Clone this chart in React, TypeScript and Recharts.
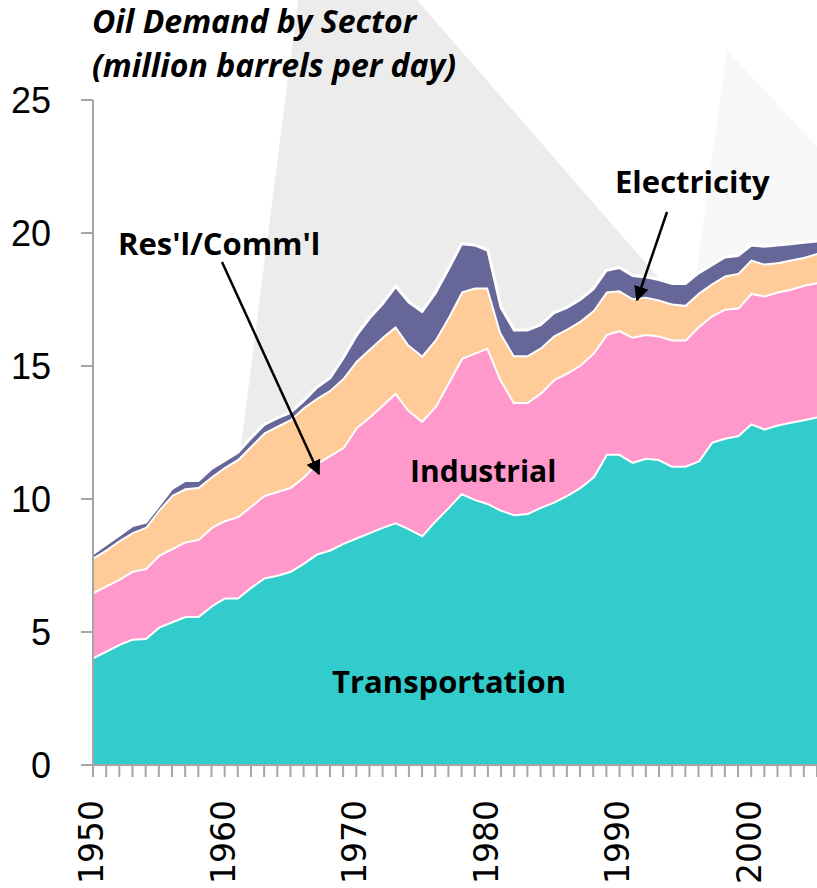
import React from 'react';
import { AreaChart, Area, XAxis, YAxis } from 'recharts';

const years = [
  1950, 1951, 1952, 1953, 1954, 1955, 1956, 1957, 1958, 1959,
  1960, 1961, 1962, 1963, 1964, 1965, 1966, 1967, 1968, 1969,
  1970, 1971, 1972, 1973, 1974, 1975, 1976, 1977, 1978, 1979,
  1980, 1981, 1982, 1983, 1984, 1985, 1986, 1987, 1988, 1989,
  1990, 1991, 1992, 1993, 1994, 1995, 1996, 1997, 1998, 1999,
  2000, 2001, 2002, 2003, 2004, 2005,
];

const transportation = [
  4.05, 4.3, 4.55, 4.75, 4.77, 5.2, 5.4, 5.6, 5.6, 6.0,
  6.3, 6.3, 6.7, 7.05, 7.15, 7.3, 7.6, 7.95, 8.1, 8.35,
  8.55, 8.75, 8.95, 9.13, 8.9, 8.65, 9.2, 9.7, 10.23, 10.0,
  9.85, 9.6, 9.43, 9.47, 9.7, 9.9, 10.15, 10.45, 10.85, 11.7,
  11.7, 11.4, 11.55, 11.5, 11.25, 11.25, 11.45, 12.15, 12.3, 12.4,
  12.85, 12.65, 12.8, 12.9, 13.0, 13.1,
];

const industrial = [
  2.45, 2.45, 2.45, 2.55, 2.63, 2.7, 2.75, 2.8, 2.9, 2.95,
  2.9, 3.05, 3.05, 3.1, 3.15, 3.15, 3.25, 3.4, 3.55, 3.6,
  4.15, 4.35, 4.6, 4.87, 4.45, 4.3, 4.3, 4.7, 5.07, 5.5,
  5.85, 4.9, 4.22, 4.18, 4.3, 4.6, 4.6, 4.6, 4.65, 4.5,
  4.65, 4.7, 4.65, 4.65, 4.75, 4.75, 5.05, 4.75, 4.85, 4.8,
  4.9, 5.0, 5.0, 5.0, 5.05, 5.05,
];

const resComm = [
  1.3, 1.35, 1.45, 1.45, 1.55, 1.7, 2.0, 2.0, 1.95, 1.9,
  2.0, 2.15, 2.25, 2.35, 2.45, 2.55, 2.6, 2.45, 2.45, 2.6,
  2.5, 2.55, 2.55, 2.5, 2.45, 2.45, 2.5, 2.45, 2.5, 2.45,
  2.25, 1.75, 1.75, 1.75, 1.7, 1.65, 1.65, 1.65, 1.6, 1.6,
  1.5, 1.45, 1.4, 1.35, 1.35, 1.3, 1.25, 1.2, 1.25, 1.3,
  1.25, 1.2, 1.1, 1.1, 1.05, 1.1,
];

const electricity = [
  0.15, 0.2, 0.2, 0.25, 0.18, 0.15, 0.25, 0.3, 0.25, 0.3,
  0.25, 0.25, 0.3, 0.3, 0.3, 0.25, 0.25, 0.4, 0.45, 0.75,
  0.95, 1.15, 1.25, 1.5, 1.6, 1.65, 1.75, 1.8, 1.8, 1.6,
  1.4, 0.95, 0.95, 0.95, 0.85, 0.85, 0.8, 0.8, 0.8, 0.8,
  0.85, 0.85, 0.75, 0.75, 0.75, 0.8, 0.75, 0.7, 0.7, 0.65,
  0.55, 0.65, 0.65, 0.6, 0.55, 0.45,
];

const yTicks = [0, 5, 10, 15, 20, 25];
const decadeLabels = [1950, 1960, 1970, 1980, 1990, 2000];

const data = years.map((year, i) => ({
  year,
  transportation: transportation[i],
  industrial: industrial[i],
  resComm: resComm[i],
  electricity: electricity[i],
}));

const AXIS_GRAY = '#a6a6a6';
const LABEL_FONT = '"Liberation Sans", Arial, sans-serif';
const XLABEL_FONT = '"DejaVu Sans", sans-serif';
const ANNOT_FONT = '"Open Sans", "Liberation Sans", sans-serif';

const XTick = (props: any) => {
  const { x, payload } = props;
  if (!decadeLabels.includes(payload.value)) return null;
  return (
    <text
      transform={`translate(${x},800) rotate(-90)`}
      textAnchor="end"
      dy="0.3em"
      fontSize={33}
      fontFamily={XLABEL_FONT}
      fill="#000"
    >
      {payload.value}
    </text>
  );
};

const YTick = (props: any) => {
  const { x, y, payload } = props;
  return (
    <text
      x={x}
      y={y}
      textAnchor="end"
      dy="0.36em"
      fontSize={36}
      fontFamily={LABEL_FONT}
      fill="#000"
    >
      {payload.value}
    </text>
  );
};

export default function App() {
  return (
    <div style={{ position: 'absolute', left: 0, top: 0, width: 817, height: 888, overflow: 'hidden', background: '#fff' }}>
      <svg width={817} height={888} style={{ position: 'absolute', left: 0, top: 0 }}>
        <polygon points="234,500 298,0 417,0 730,360 600,640" fill="#ececec" />
        <polygon points="690,320 727,50 817,147 817,320" fill="#f7f7f7" />
      </svg>
      <div style={{ position: 'absolute', left: 0, top: 0 }}>
        <AreaChart
          width={817}
          height={888}
          data={data}
          margin={{ top: 100, right: 0, bottom: 0, left: 0 }}
        >
          <XAxis
            dataKey="year"
            type="number"
            domain={[1950, 2005]}
            ticks={years}
            interval={0}
            tickSize={12}
            height={123}
            axisLine={{ stroke: AXIS_GRAY, strokeWidth: 2 }}
            tickLine={{ stroke: AXIS_GRAY, strokeWidth: 2 }}
            tick={<XTick />}
            allowDataOverflow
          />
          <YAxis
            type="number"
            domain={[0, 25]}
            ticks={yTicks}
            interval={0}
            width={93}
            tickSize={12}
            tickMargin={30}
            axisLine={{ stroke: AXIS_GRAY, strokeWidth: 2 }}
            tickLine={{ stroke: AXIS_GRAY, strokeWidth: 2 }}
            tick={<YTick />}
          />
          <Area type="linear" dataKey="transportation" stackId="1" fill="#33cccc" fillOpacity={1} stroke="#ffffff" strokeWidth={4} isAnimationActive={false} />
          <Area type="linear" dataKey="industrial" stackId="1" fill="#ff99cc" fillOpacity={1} stroke="#ffffff" strokeWidth={4} isAnimationActive={false} />
          <Area type="linear" dataKey="resComm" stackId="1" fill="#ffcc99" fillOpacity={1} stroke="#ffffff" strokeWidth={4} isAnimationActive={false} />
          <Area type="linear" dataKey="electricity" stackId="1" fill="#666699" fillOpacity={1} stroke="#ffffff" strokeWidth={3} isAnimationActive={false} />
        </AreaChart>
      </div>
      <svg width={817} height={888} style={{ position: 'absolute', left: 0, top: 0, pointerEvents: 'none' }}>
        <defs>
          <marker id="arrowHead" viewBox="0 0 10 10" refX="9" refY="5" markerWidth="6" markerHeight="6" orient="auto" markerUnits="strokeWidth">
            <path d="M0,0 L10,5 L0,10 z" fill="#000" />
          </marker>
        </defs>
        <text x={92} y={33} fontSize={32} fontWeight="bold" fontStyle="italic" fontFamily={ANNOT_FONT} fill="#000">
          Oil Demand by Sector
        </text>
        <text x={92} y={77} fontSize={32} fontWeight="bold" fontStyle="italic" fontFamily={ANNOT_FONT} fill="#000">
          (million barrels per day)
        </text>
        <text x={615} y={193} fontSize={31} fontWeight="bold" fontFamily={ANNOT_FONT} fill="#000">Electricity</text>
        <text x={118} y={255} fontSize={31} fontWeight="bold" fontFamily={ANNOT_FONT} fill="#000">Res'l/Comm'l</text>
        <text x={410} y={482} fontSize={30} fontWeight="bold" fontFamily={ANNOT_FONT} fill="#000">Industrial</text>
        <text x={332} y={693} fontSize={31} fontWeight="bold" fontFamily={ANNOT_FONT} fill="#000">Transportation</text>
        <line x1={222} y1={262} x2={319} y2={474} stroke="#000" strokeWidth={2.5} markerEnd="url(#arrowHead)" />
        <line x1={667} y1={212} x2={637} y2={300} stroke="#000" strokeWidth={2.5} markerEnd="url(#arrowHead)" />
      </svg>
    </div>
  );
}
